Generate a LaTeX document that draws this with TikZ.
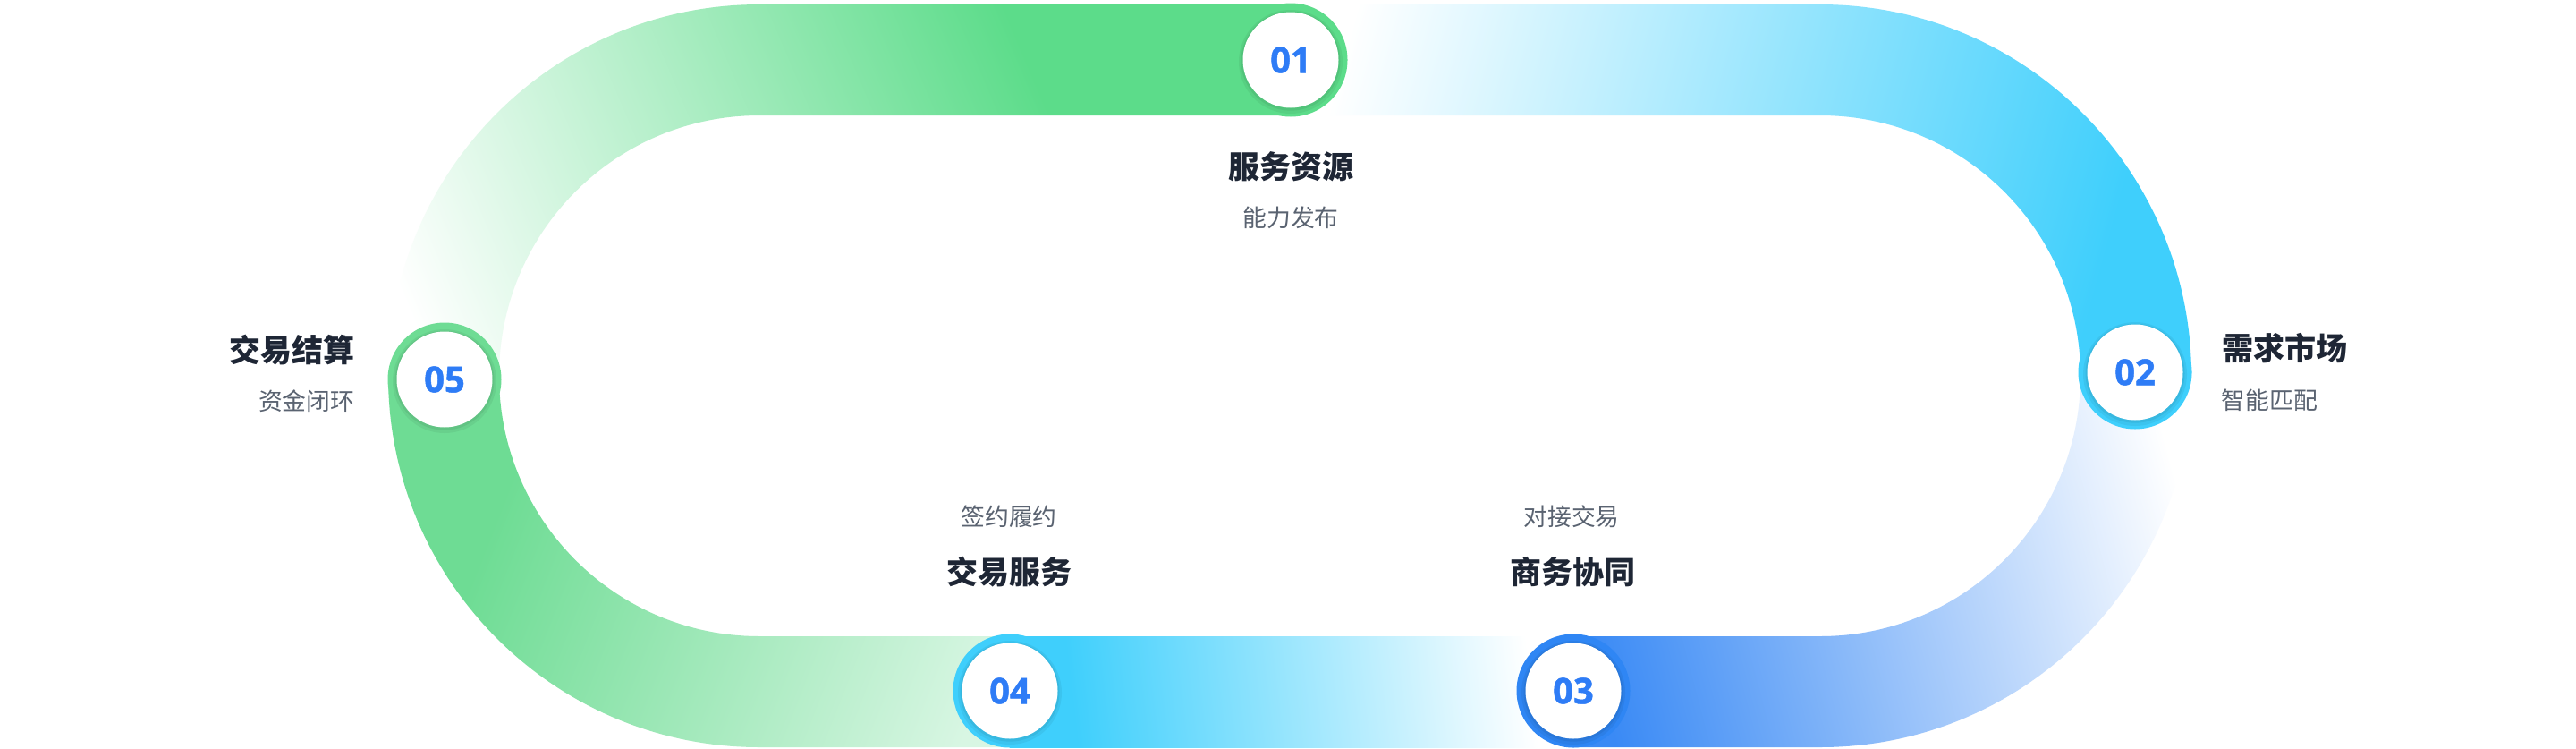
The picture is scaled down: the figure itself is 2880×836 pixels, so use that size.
\documentclass[tikz,border=0pt]{standalone}
\usepackage{fontspec}
\newfontfamily\cjk{Noto Sans CJK SC}
\newfontfamily\numf{Open Sans}[BoldFeatures={FakeBold=1.2}]
\definecolor{gA}{HTML}{5CDC8A}
\definecolor{cyA}{HTML}{3FCFFC}
\definecolor{blA}{HTML}{3A8AF5}
\definecolor{blR}{HTML}{2F86F4}
\definecolor{gP}{HTML}{D8F6E3}
\definecolor{gB}{HTML}{6EDC94}
\definecolor{titlec}{HTML}{1E2635}
\definecolor{subc}{HTML}{5A6371}
\definecolor{numc}{HTML}{2E7CF6}
\pgfdeclarehorizontalshading{shA}{100bp}{color(0bp)=(white); color(45bp)=(white); color(55bp)=(gA); color(100bp)=(gA)}
\pgfdeclarehorizontalshading{shB}{100bp}{color(0bp)=(white); color(45bp)=(white); color(55bp)=(cyA); color(100bp)=(cyA)}
\pgfdeclarehorizontalshading{shC}{100bp}{color(0bp)=(white); color(45bp)=(white); color(55bp)=(blA); color(100bp)=(blA)}
\pgfdeclarehorizontalshading{shD}{100bp}{color(0bp)=(white); color(45bp)=(white); color(55bp)=(cyA); color(100bp)=(cyA)}
\pgfdeclarehorizontalshading{shE}{100bp}{color(0bp)=(gP); color(45bp)=(gP); color(55bp)=(gB); color(100bp)=(gB)}
\tikzset{
  ringdisk/.style={circle, inner sep=0pt, minimum size=31.75pt},
  whitedisk/.style={circle, fill=white, inner sep=0pt, minimum size=26.75pt,
    font=\numf\bfseries\fontsize{10}{12}\selectfont, text=numc},
  titletext/.style={font=\cjk\bfseries\fontsize{8.75}{10}\selectfont, text=titlec, inner sep=0pt},
  subtext/.style={font=\cjk\fontsize{6.7}{8}\selectfont, text=subc, inner sep=0pt}
}
\begin{document}
\begin{tikzpicture}[x=0.25pt, y=-0.25pt]
\fill[white] (0,0) rectangle (2880,836);
\useasboundingbox (0,0) rectangle (2880,836);

% segment 05 -> 01 (green)
\begin{scope}
\clip (434,420) arc[start angle=180, end angle=270, radius=415] -- (1443,5) -- (1443,129) -- (849,129)
      arc[start angle=270, end angle=180, radius=291] -- cycle;
\shade[shading=shA, shading angle=23] (805-1875,213.5-1875) rectangle (805+1875,213.5+1875);
\end{scope}
% segment 01 -> 02 (cyan)
\begin{scope}
\clip (1443,5) -- (2035,5) arc[start angle=270, end angle=360, radius=415] -- (2326,420)
      arc[start angle=0, end angle=-90, radius=291] -- (1443,129) -- cycle;
\shade[shading=shB, shading angle=-15.3] (1925-2203,183.5-2203) rectangle (1925+2203,183.5+2203);
\end{scope}
% segment 02 -> 03 (blue)
\begin{scope}
\clip (2450,420) arc[start angle=0, end angle=90, radius=415] -- (1759,835) -- (1759,711) -- (2035,711)
      arc[start angle=90, end angle=0, radius=291] -- cycle;
\shade[shading=shC, shading angle=194.7] (2120-1705,686.5-1705) rectangle (2120+1705,686.5+1705);
\end{scope}
% segment 03 -> 04 (cyan)
\begin{scope}
\clip (1759,711) -- (1129,711) -- (1129,835) -- (1759,835) -- cycle;
\shade[shading=shD, shading angle=186.7] (1455-1284,770-1284) rectangle (1455+1284,770+1284);
\end{scope}
% segment 04 -> 05 (green)
\begin{scope}
\clip (1129,835) -- (849,835) arc[start angle=90, end angle=180, radius=415] -- (558,420)
      arc[start angle=180, end angle=90, radius=291] -- (1129,711) -- cycle;
\shade[shading=shE, shading angle=158.5] (830-1450,666.5-1450) rectangle (830+1450,666.5+1450);
\end{scope}

% markers
\node[ringdisk, fill=gA] (r1) at (1443,67) {};
\node[ringdisk, fill=cyA] (r2) at (2387,416) {};
\node[ringdisk, fill=blR] (r3) at (1759,772) {};
\node[ringdisk, fill=cyA] (r4) at (1129,772) {};
\node[ringdisk, fill=gB] (r5) at (497,424) {};
\foreach \r in {r1,r2,r3,r4,r5}{
  \fill[black, opacity=0.05] ([yshift=-0.5pt]\r.center) circle[radius=58];
  \fill[black, opacity=0.06] ([yshift=-0.3pt]\r.center) circle[radius=55.5];
}
\node[whitedisk] (n1) at (r1) {01};
\node[whitedisk] (n2) at (r2) {02};
\node[whitedisk] (n3) at (r3) {03};
\node[whitedisk] (n4) at (r4) {04};
\node[whitedisk] (n5) at (r5) {05};

% labels
\node[titletext] (t1) at (1443,186) {服务资源};
\node[subtext] (s1) at (1443,243) {能力发布};
\node[titletext, anchor=west] (t2) at (2484,389) {需求市场};
\node[subtext, anchor=west] (s2) at (2483,447) {智能匹配};
\node[titletext] (t3) at (1758,639) {商务协同};
\node[subtext] (s3) at (1757,577) {对接交易};
\node[titletext] (t4) at (1128,639) {交易服务};
\node[subtext] (s4) at (1128,577) {签约履约};
\node[titletext, anchor=east] (t5) at (397,391) {交易结算};
\node[subtext, anchor=east] (s5) at (397,448) {资金闭环};
\end{tikzpicture}
\end{document}
